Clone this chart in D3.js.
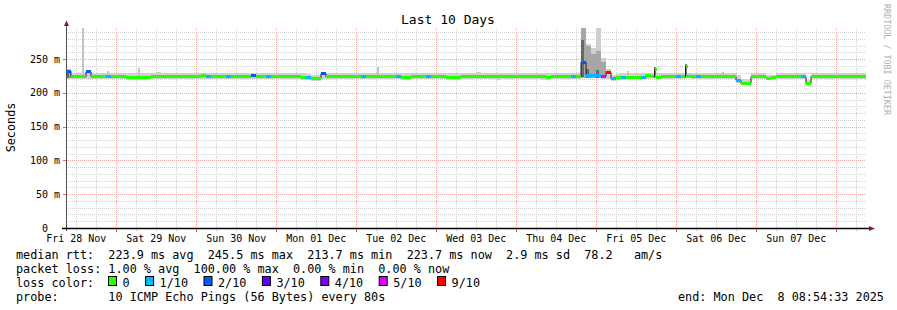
<!DOCTYPE html>
<html>
<head>
<meta charset="utf-8">
<script src="https://cdn.jsdelivr.net/npm/d3@7"></script>
<style>
body { margin: 0; background: #fff; }
svg text { font-family: "DejaVu Sans Mono", monospace; white-space: pre; }
</style>
</head>
<body>
<div id="chart"></div>
<script>
const width = 897;
const height = 310;
const plot = { left: 66, right: 866, top: 28, bottom: 228 };

// time frame of the graph
const startTime = new Date(2025, 10, 28, 8, 54, 33);
const endTime = new Date(2025, 11, 8, 8, 54, 33);
const stepHours = 1.5;

// median rtt (ms) per step
const median = [
  232, 223.5, 224, 223.8, 231, 224, 224.2, 223.8, 224, 224.3, 224, 223.6, 223.2, 223, 222.8, 223, 223.4, 223.8, 224, 224.2,
  224.3, 224, 223.8, 224.1, 224.4, 224.2, 224, 226, 224, 224.2, 224.4, 224.1, 224, 223.6, 223.8, 224.2, 224.5, 226, 224.4, 224.2,
  224, 223.8, 224.2, 224.4, 224.1, 223.8, 223.5, 223.2, 223, 221.5, 221.8, 228, 224, 224.2, 224.3, 224.1, 224, 224.2, 224.4, 224.3,
  224.1, 224, 224.2, 224.3, 224.1, 223.9, 223.6, 223.4, 223.3, 223.6, 224, 224.2, 224.1, 224, 223.8, 223.6, 223.4, 223.2, 223.4, 223.6,
  223.8, 224, 224.1, 223.9, 223.7, 223.6, 223.5, 223.6, 223.8, 224, 224.1, 224.2, 224, 223.8, 223.6, 223.5, 223.4, 223.6, 223.8, 224,
  224.1, 224, 223.5, 245.5, 226, 225, 225, 224, 230, 221.5, 222.2, 222.6, 223, 223.2, 223.4, 223.2, 226, 224, 223.4, 223.6,
  223.8, 224, 224.2, 224.3, 224, 224.5, 224.3, 224, 224.2, 224.4, 224.1, 224, 223.8, 224, 218.5, 213.7, 214.5, 224.2, 224.4, 224.3,
  222, 222.3, 224, 224.2, 224.4, 224.3, 224.1, 224.2, 213.7, 224.5, 224.6, 224.4, 224.5, 224.3, 224.4, 224.5, 224.3, 224.4, 224.2, 224.3
];

// lost pings out of 10 per step
const loss = [
  2, 0, 0, 0, 2, 0, 0, 0, 1, 0, 0, 0, 0, 0, 0, 0, 0, 0, 0, 0,
  0, 0, 0, 0, 0, 0, 0, 0, 1, 0, 0, 0, 1, 0, 0, 0, 0, 2, 0, 0,
  1, 0, 0, 0, 0, 0, 0, 0, 1, 0, 0, 2, 0, 0, 0, 0, 0, 0, 0, 1,
  0, 0, 0, 0, 0, 0, 1, 0, 0, 0, 0, 0, 1, 0, 0, 0, 0, 0, 0, 0,
  0, 0, 0, 0, 0, 0, 0, 0, 0, 0, 0, 0, 0, 0, 0, 0, 0, 0, 0, 0,
  0, 1, 0, 2, 1, 1, 1, 5, 9, 1, 0, 1, 0, 0, 0, 1, 0, 0, 0, 0,
  0, 0, 1, 0, 0, 0, 1, 0, 0, 0, 0, 0, 0, 0, 1, 0, 0, 0, 0, 0,
  0, 0, 0, 0, 0, 0, 0, 1, 0, 0, 0, 0, 0, 0, 0, 0, 0, 0, 0, 0
];

// smoke: highest and lowest ping (ms) per step
const smokeHi = [
  236, 229, 230, 230, 234, 229, 229, 230, 229, 229, 230, 229, 229, 229, 230, 229, 229, 229, 231, 229,
  230, 229, 229, 230, 229, 229, 229, 230, 229, 229, 230, 229, 229, 229, 230, 229, 229, 230, 229, 229,
  229, 230, 229, 229, 230, 229, 229, 229, 228, 227, 227, 231, 229, 230, 229, 229, 230, 229, 229, 230,
  229, 230, 229, 229, 229, 230, 229, 229, 229, 230, 229, 229, 230, 229, 229, 229, 230, 229, 229, 229,
  230, 229, 231, 229, 229, 230, 229, 229, 229, 230, 229, 229, 229, 230, 229, 229, 229, 230, 229, 229,
  229, 229, 230, 296, 272, 266, 296, 252, 236, 227, 228, 229, 229, 230, 229, 229, 229, 229, 229, 229,
  229, 230, 229, 229, 230, 229, 229, 230, 229, 229, 230, 230, 229, 229, 226, 220, 220, 229, 230, 229,
  227, 227, 229, 230, 229, 229, 230, 229, 219, 229, 230, 229, 229, 230, 229, 229, 230, 229, 229, 230
];
const smokeLo = [
  220, 220, 221, 220, 221, 220, 220, 221, 220, 220, 221, 220, 219, 219, 219, 219, 220, 220, 221, 220,
  221, 220, 220, 221, 221, 220, 220, 221, 220, 221, 221, 220, 220, 220, 220, 221, 221, 221, 221, 220,
  220, 220, 221, 221, 220, 220, 220, 219, 219, 218, 218, 221, 220, 221, 221, 220, 220, 221, 221, 221,
  220, 220, 221, 221, 220, 220, 220, 219, 219, 220, 220, 221, 220, 220, 220, 220, 219, 219, 219, 220,
  220, 220, 221, 220, 220, 220, 219, 220, 220, 220, 221, 221, 220, 220, 220, 219, 219, 220, 220, 220,
  221, 220, 220, 222, 222, 222, 222, 221, 221, 218, 219, 219, 220, 220, 220, 220, 221, 222, 220, 220,
  220, 220, 221, 221, 222, 221, 221, 220, 220, 221, 221, 220, 220, 220, 215, 211, 212, 221, 221, 221,
  219, 219, 220, 221, 221, 221, 221, 220, 211, 221, 221, 221, 221, 221, 221, 221, 221, 221, 221, 221
];

// denser smoke inside the big spike: [step, low ms, high ms]
const midSmoke = [[0, 222, 234], [103, 222, 296], [104, 222, 270], [105, 222, 258], [106, 222, 262], [107, 222, 245]];
const darkSmoke = [[0, 222, 231], [103, 223, 278], [104, 222, 236], [106, 222, 234]];

// single-sample ping outliers: [hours after start, highest ping ms]
const pingPeaks = [[5.1, 296], [12.6, 233], [21.9, 237], [93.6, 238], [168.6, 232], [197.1, 231]];
// single-sample median jumps: [hours after start, median ms, lost pings]
const medianPeaks = [[176.7, 236, 0], [186.0, 240, 0]];

const lossLevels = [0, 1, 2, 3, 4, 5, 9];
const lossLabels = ["0", "1/10", "2/10", "3/10", "4/10", "5/10", "9/10"];
const lossColors = ["#26ff00", "#00b8ff", "#0059ff", "#5e00ff", "#7e00ff", "#dd00ff", "#ff0000"];

const yMajor = [50, 100, 150, 200, 250];
const yLabels = [0, 50, 100, 150, 200, 250];

const legendLines = [
  "median rtt:  223.9 ms avg  245.5 ms max  213.7 ms min  223.7 ms now  2.9 ms sd  78.2   am/s",
  "packet loss: 1.00 % avg  100.00 % max  0.00 % min  0.00 % now",
  "loss color:",
  "probe:       10 ICMP Echo Pings (56 Bytes) every 80s"
];
const endText = "end: Mon Dec  8 08:54:33 2025";

const stepTime = i => new Date(startTime.getTime() + i * stepHours * 3600e3);
const hourTime = h => new Date(startTime.getTime() + h * 3600e3);

const x = d3.scaleTime().domain([startTime, endTime]).range([plot.left, plot.right]);
const y = d3.scaleLinear().domain([0, 296]).range([plot.bottom, plot.top]).clamp(true);

const svg = d3.select("#chart").append("svg")
  .attr("width", width)
  .attr("height", height)
  .style("display", "block");

svg.append("rect").attr("width", width).attr("height", height).attr("fill", "#fff");

// grid
const grid = svg.append("g").attr("shape-rendering", "crispEdges");
const minorX = d3.timeHour.every(6).range(startTime, endTime).filter(d => d.getHours() !== 0);
const majorX = d3.timeDay.range(startTime, endTime);
const minorY = d3.range(10, 296, 10).filter(v => v % 50 !== 0);

grid.selectAll(".mx").data(minorX).enter().append("line")
  .attr("x1", d => Math.round(x(d)) + 0.5).attr("x2", d => Math.round(x(d)) + 0.5)
  .attr("y1", plot.top).attr("y2", plot.bottom)
  .attr("stroke", "#d2d2d2").attr("stroke-dasharray", "1,1");
grid.selectAll(".my").data(minorY).enter().append("line")
  .attr("x1", plot.left).attr("x2", plot.right)
  .attr("y1", d => Math.round(y(d)) + 0.5).attr("y2", d => Math.round(y(d)) + 0.5)
  .attr("stroke", "#d2d2d2").attr("stroke-dasharray", "1,1");
grid.selectAll(".Mx").data(majorX).enter().append("line")
  .attr("x1", d => Math.round(x(d)) + 0.5).attr("x2", d => Math.round(x(d)) + 0.5)
  .attr("y1", plot.top).attr("y2", plot.bottom)
  .attr("stroke", "#f4a2a2").attr("stroke-dasharray", "1,1");
grid.selectAll(".My").data(yMajor).enter().append("line")
  .attr("x1", plot.left).attr("x2", plot.right)
  .attr("y1", d => Math.round(y(d)) + 0.5).attr("y2", d => Math.round(y(d)) + 0.5)
  .attr("stroke", "#f4a2a2").attr("stroke-dasharray", "1,1");

// smoke
const steps = median.map((m, i) => ({ i, t0: stepTime(i), t1: stepTime(i + 1), m, loss: loss[i], hi: smokeHi[i], lo: smokeLo[i] }));
const smoke = svg.append("g").attr("shape-rendering", "crispEdges");
smoke.selectAll(".s").data(steps).enter().append("rect")
  .attr("x", d => x(d.t0)).attr("width", d => x(d.t1) - x(d.t0))
  .attr("y", d => y(d.hi)).attr("height", d => y(d.lo) - y(d.hi))
  .attr("fill", "#cfcfcf");
smoke.selectAll(".pp").data(pingPeaks).enter().append("rect")
  .attr("x", d => x(hourTime(d[0])) - 1).attr("width", 2)
  .attr("y", d => y(d[1])).attr("height", d => y(224) - y(d[1]))
  .attr("fill", "#c4c4c4");
smoke.selectAll(".sm").data(midSmoke).enter().append("rect")
  .attr("x", d => x(stepTime(d[0]))).attr("width", d => x(stepTime(d[0] + 1)) - x(stepTime(d[0])))
  .attr("y", d => y(d[2])).attr("height", d => y(d[1]) - y(d[2]))
  .attr("fill", "#a6a6a6");
smoke.selectAll(".sd").data(darkSmoke).enter().append("rect")
  .attr("x", d => x(stepTime(d[0]))).attr("width", d => (x(stepTime(d[0] + 1)) - x(stepTime(d[0]))) * 0.6)
  .attr("y", d => y(d[2])).attr("height", d => y(d[1]) - y(d[2]))
  .attr("fill", "#686868");
smoke.selectAll(".mp").data(medianPeaks).enter().append("rect")
  .attr("x", d => x(hourTime(d[0])) - 1).attr("width", 2)
  .attr("y", d => y(d[1] + 3)).attr("height", d => y(222) - y(d[1] + 3))
  .attr("fill", "#7a7a7a");

// thin dark median line underneath, then loss coloured segments
const medLine = d3.line()
  .x(d => x(d.t))
  .y(d => y(d.v))
  .curve(d3.curveStepAfter);
const medPts = steps.map(d => ({ t: d.t0, v: d.m })).concat([{ t: endTime, v: median[median.length - 1] }]);
svg.append("path").datum(medPts)
  .attr("d", medLine)
  .attr("fill", "none").attr("stroke", "#202020").attr("stroke-width", 1);

svg.append("g").attr("shape-rendering", "crispEdges")
  .selectAll("rect").data(steps).enter().append("rect")
  .attr("x", d => x(d.t0)).attr("width", d => x(d.t1) - x(d.t0))
  .attr("y", d => y(d.m) - 1.5).attr("height", 3)
  .attr("fill", d => lossColors[lossLevels.indexOf(d.loss)]);

const peaks = svg.append("g").attr("shape-rendering", "crispEdges");
peaks.selectAll("line").data(medianPeaks).enter().append("line")
  .attr("x1", d => Math.round(x(hourTime(d[0]))) - 0.5).attr("x2", d => Math.round(x(hourTime(d[0]))) - 0.5)
  .attr("y1", y(224)).attr("y2", d => y(d[1]))
  .attr("stroke", "#202020");
peaks.selectAll("rect").data(medianPeaks).enter().append("rect")
  .attr("x", d => x(hourTime(d[0]))).attr("width", 2)
  .attr("y", d => y(d[1]) - 1).attr("height", 3)
  .attr("fill", d => lossColors[lossLevels.indexOf(d[2])]);

// axes
const axes = svg.append("g");
axes.append("line")
  .attr("x1", plot.left + 0.5).attr("x2", plot.left + 0.5)
  .attr("y1", plot.bottom + 3).attr("y2", 24)
  .attr("stroke", "#505050");
axes.append("line")
  .attr("x1", 62).attr("x2", 870)
  .attr("y1", plot.bottom + 0.5).attr("y2", plot.bottom + 0.5)
  .attr("stroke", "#000").attr("stroke-width", 1.5);
axes.append("path").attr("d", "M64,26L66.5,20.5L69,26Z").attr("fill", "#8a1c1c");
axes.append("path").attr("d", "M869,226L875,228.5L869,231Z").attr("fill", "#8a1c1c");

axes.selectAll(".tx").data(majorX).enter().append("line")
  .attr("x1", d => Math.round(x(d)) + 0.5).attr("x2", d => Math.round(x(d)) + 0.5)
  .attr("y1", plot.bottom + 1).attr("y2", plot.bottom + 4)
  .attr("stroke", "#e06060");
axes.selectAll(".tmx").data(minorX).enter().append("line")
  .attr("x1", d => Math.round(x(d)) + 0.5).attr("x2", d => Math.round(x(d)) + 0.5)
  .attr("y1", plot.bottom + 1).attr("y2", plot.bottom + 3)
  .attr("stroke", "#b8b8b8");
axes.selectAll(".ty").data(yMajor).enter().append("line")
  .attr("x1", plot.left - 3).attr("x2", plot.left)
  .attr("y1", d => Math.round(y(d)) + 0.5).attr("y2", d => Math.round(y(d)) + 0.5)
  .attr("stroke", "#e06060");

// x labels at noon
const noons = d3.timeDay.range(startTime, endTime)
  .map(d => d3.timeHour.offset(d, -12))
  .filter(d => d > startTime);
const fmt = d3.timeFormat("%a %d %b");
svg.append("g").selectAll("text").data(noons).enter().append("text")
  .attr("x", d => x(d)).attr("y", 242)
  .attr("text-anchor", "middle")
  .attr("font-size", "10px")
  .attr("fill", "#000")
  .text(d => fmt(d));

// y labels
svg.append("g").selectAll("text").data(yLabels).enter().append("text")
  .attr("x", d => d === 0 ? 48 : 60)
  .attr("y", d => y(d) + 3.5)
  .attr("text-anchor", "end")
  .attr("font-size", "10px")
  .attr("fill", "#000")
  .text(d => d === 0 ? "0" : d + " m");

svg.append("text")
  .attr("transform", "translate(15,127.5) rotate(-90)")
  .attr("text-anchor", "middle")
  .attr("font-size", "11.8px")
  .text("Seconds");

svg.append("text")
  .attr("x", 448).attr("y", 24)
  .attr("text-anchor", "middle")
  .attr("font-size", "13px")
  .text("Last 10 Days");

svg.append("text")
  .attr("transform", "translate(884,4) rotate(90)")
  .attr("font-size", "8.4px")
  .attr("fill", "#b0b0b0")
  .text("RRDTOOL / TOBI OETIKER");

// legend
svg.append("g").selectAll("text").data(legendLines).enter().append("text")
  .attr("x", 16).attr("y", (d, i) => 258.5 + i * 14)
  .attr("font-size", "11.8px")
  .text(d => d);

svg.append("text")
  .attr("x", 678).attr("y", 300.5)
  .attr("font-size", "11.8px")
  .text(endText);

let lx = 108;
const legend = svg.append("g");
lossLabels.forEach((lab, k) => {
  legend.append("rect")
    .attr("x", lx + 0.5).attr("y", 276.5)
    .attr("width", 8).attr("height", 9)
    .attr("fill", lossColors[k]).attr("stroke", "#000");
  legend.append("text")
    .attr("x", lx + 14.5).attr("y", 286.5)
    .attr("font-size", "11.8px")
    .text(lab);
  lx += 14.5 + lab.length * 7.1 + 15.5;
});
</script>
</body>
</html>
